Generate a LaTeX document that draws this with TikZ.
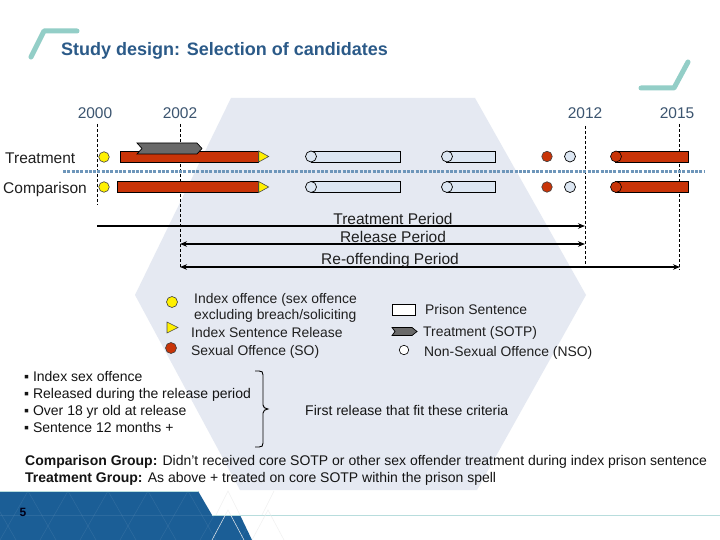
\documentclass[tikz,border=0pt]{standalone}
\usepackage{fontspec}
\setmainfont{Liberation Sans}
\usetikzlibrary{arrows.meta}
\definecolor{hexbg}{RGB}{229,233,242}
\definecolor{barred}{RGB}{200,52,8}
\definecolor{dotyellow}{RGB}{255,240,0}
\definecolor{boxblue}{RGB}{220,230,242}
\definecolor{arrgray}{RGB}{105,105,105}
\definecolor{titleblue}{RGB}{43,90,136}
\definecolor{yeartxt}{RGB}{60,85,112}
\definecolor{sepblue}{RGB}{110,150,186}
\definecolor{bandblue}{RGB}{27,94,150}
\definecolor{teal}{RGB}{147,206,199}
\definecolor{tealline}{RGB}{184,221,221}
\begin{document}
\begin{tikzpicture}[x=1pt,y=-1pt,
  big/.style={font=\fontsize{15.5}{18}\selectfont, inner sep=0, text height=11.1pt, text depth=0pt},
  yr/.style={big, text=yeartxt},
  lbl/.style={big, text=black!88},
  sm/.style={font=\fontsize{13.9}{16}\selectfont, inner sep=0, text height=10pt, text depth=0pt, anchor=west, text=black!88},
  ft/.style={font=\fontsize{14}{16}\selectfont, inner sep=0, text height=10pt, text depth=0pt, anchor=west, text=black!92},
  redbar/.style={rectangle, draw=black, fill=barred, line width=0.7pt, inner sep=0, minimum height=11pt, anchor=west},
  pbox/.style={rectangle, draw=black, fill=boxblue, line width=0.7pt, inner sep=0, minimum height=11pt, anchor=west},
  ydot/.style={circle, draw=black!75, fill=dotyellow, minimum size=10.5pt, inner sep=0, line width=0.6pt},
  rdot/.style={circle, draw=black!75, fill=barred, minimum size=10.5pt, inner sep=0, line width=0.6pt},
  odot/.style={circle, draw=black, fill=boxblue, minimum size=11pt, inner sep=0, line width=0.7pt},
  wdot/.style={circle, draw=black, fill=white, minimum size=9.5pt, inner sep=0, line width=0.6pt},
  ytri/.style={draw=black!70, fill=dotyellow, line width=0.6pt},
  sotp/.style={draw=black, fill=arrgray, line width=0.7pt},
  vdash/.style={draw=black, dash pattern=on 3pt off 2pt, line width=0.8pt},
  period/.style={line width=2.3pt},
  sepline/.style={draw=sepblue, line width=3pt, dash pattern=on 3pt off 1.3pt},
  deco/.style={draw=teal, line width=5pt, line cap=round, line join=round}]
\useasboundingbox (0,0) rectangle (720,540);
\fill[white] (0,0) rectangle (720,540);
% background hexagon
\fill[hexbg] (231,98) -- (475,98) -- (586,295) -- (477,490) -- (240,490) -- (135,295) -- cycle;
% decorations
\draw[deco] (31,57) -- (44,31) -- (77,31);
\draw[deco] (641,88) -- (674,88) -- (688,62);
% title
\node[font=\fontsize{18}{21}\selectfont\bfseries, text=titleblue, inner sep=0, anchor=west, text height=13pt, text depth=0pt] (title) at (61,49) {Study design: Selection of candidates};
% years
\node[yr] (y2000) at (95,113) {2000};
\node[yr] (y2002) at (180,113) {2002};
\node[yr] (y2012) at (585,113) {2012};
\node[yr] (y2015) at (677,113) {2015};
% dashed year lines
\coordinate (d0t) at (97,124); \coordinate (d0b) at (97,205);
\coordinate (d2t) at (180,124); \coordinate (d2b) at (180,268);
\coordinate (d12t) at (585,126); \coordinate (d12b) at (585,268);
\coordinate (d15t) at (679,124); \coordinate (d15b) at (679,270);
\draw[vdash] (d0t) -- (d0b);
\draw[vdash] (d2t) -- (d2b);
\draw[vdash] (d12t) -- (d12b);
\draw[vdash] (d15t) -- (d15b);
% row labels
\node[lbl, anchor=west] (trow) at (5,158) {Treatment};
\node[lbl, anchor=west] (crow) at (3,188) {Comparison};
% separator
\coordinate (sepL) at (63,172); \coordinate (sepR) at (705,172);
\draw[sepline] (sepL) -- (sepR);
% ---- treatment row (y=157)
\node[ydot] (tY) at (104,157) {};
\node[redbar, minimum width=138pt] (tbar) at (120,156.5) {};
\draw[ytri] (tbar.east) ++(0,-5.5) -- ++(10,5.5) -- ++(-10,5.5) -- cycle;
\draw[sotp] (137,143) -- (197,143) -- (202,148.5) -- (197,154) -- (137,154) -- (142,148.5) -- cycle;
\node[pbox, minimum width=89pt] (tp1) at (311,156.5) {};
\node[odot] (tn1) at (311,156.5) {};
\node[pbox, minimum width=49pt] (tp2) at (446,156.5) {};
\node[odot] (tn2) at (447,156.5) {};
\node[rdot] (tso) at (547,156.5) {};
\node[odot] (tnso) at (570,156.5) {};
\node[redbar, minimum width=73pt] (tbar2) at (615,156.5) {};
\node[rdot, draw=black, minimum size=11pt] (tso2) at (616,156.5) {};
% ---- comparison row (y=187)
\node[ydot] (cY) at (104,187) {};
\node[redbar, minimum width=141pt] (cbar) at (117,187) {};
\draw[ytri] (cbar.east) ++(0,-5.5) -- ++(10,5.5) -- ++(-10,5.5) -- cycle;
\node[pbox, minimum width=89pt] (cp1) at (311,187) {};
\node[odot] (cn1) at (311,187) {};
\node[pbox, minimum width=49pt] (cp2) at (446,187) {};
\node[odot] (cn2) at (447,187) {};
\node[rdot] (cso) at (547,187) {};
\node[odot] (cnso) at (570,187) {};
\node[redbar, minimum width=73pt] (cbar2) at (615,187) {};
\node[rdot, draw=black, minimum size=11pt] (cso2) at (616,187) {};
% ---- periods
\coordinate (tpL) at (97,226); \coordinate (tpR) at (585,226);
\coordinate (rpL) at (180,244); \coordinate (rpR) at (585,244);
\coordinate (opL) at (180,267); \coordinate (opR) at (680,267);
\draw[period, -{Stealth[length=7pt,width=5.5pt]}] (tpL) -- (tpR);
\draw[period, {Stealth[length=7pt,width=5.5pt]}-{Stealth[length=7pt,width=5.5pt]}] (rpL) -- (rpR);
\draw[period, {Stealth[length=7pt,width=5.5pt]}-{Stealth[length=7pt,width=5.5pt]}] (opL) -- (opR);
\node[lbl] (tptxt) at (393,219) {Treatment Period};
\node[lbl] (rptxt) at (393,237) {Release Period};
\node[lbl] (optxt) at (390,259) {Re-offending Period};
% ---- legend left
\node[ydot, minimum size=11pt] (lgY) at (172,302) {};
\node[sm] (lgYt1) at (194,298) {Index offence (sex offence};
\node[sm] (lgYt2) at (194,314) {excluding breach/soliciting};
\draw[ytri] (167,322) -- (178,327.5) -- (167,333) -- cycle;
\node[sm] (lgTt) at (191,332) {Index Sentence Release};
\node[rdot, minimum size=11pt] (lgR) at (171,348) {};
\node[sm] (lgRt) at (191,350) {Sexual Offence (SO)};
% ---- legend right
\draw[draw=black, fill=white, line width=0.7pt] (392,304) rectangle (415,315);
\node[sm] (lgPt) at (425,309) {Prison Sentence};
\draw[sotp] (392,327.5) -- (412,327.5) -- (417,331.5) -- (412,335.5) -- (392,335.5) -- (395,331.5) -- cycle;
\node[sm] (lgSt) at (423,331) {Treatment (SOTP)};
\node[wdot] (lgO) at (404,350) {};
\node[sm] (lgOt) at (424,351) {Non-Sexual Offence (NSO)};
% ---- criteria
\node[ft] (c1) at (24,376) {▪ Index sex offence};
\node[ft] (c2) at (24,393) {▪ Released during the release period};
\node[ft] (c3) at (24,410) {▪ Over 18 yr old at release};
\node[ft] (c4) at (24,427) {▪ Sentence 12 months +};
\draw[line width=0.9pt] (255,371) -- (259,371) .. controls (262,371) and (263,372) .. (263,375) -- (263,405) .. controls (263,407) and (265,409) .. (268,409) .. controls (265,409) and (263,411) .. (263,413) -- (263,443) .. controls (263,446) and (262,447) .. (259,447) -- (255,447);
\node[ft] (first) at (305,410) {First release that fit these criteria};
% ---- group definitions
\node[ft] (cg) at (25,460) {\textbf{Comparison Group:} Didn't received core SOTP or other sex offender treatment during index prison sentence};
\node[ft] (tg) at (25,477) {\textbf{Treatment Group:} As above + treated on core SOTP within the prison spell};
% ---- footer band
\begin{scope}
\clip (0,491) -- (198,491) -- (212,515) -- (240,515) -- (252,540) -- (0,540) -- cycle;
\fill[bandblue] (0,480) rectangle (300,540);
\foreach \k in {-2,...,8} {
  \draw[white, opacity=0.08, line width=0.6pt] (\k*40,540) -- (\k*40+28,491) -- (\k*40+56,540);
}
\draw[white, opacity=0.08, line width=0.6pt] (0,515) -- (260,515);
\end{scope}
\draw[tealline, line width=1pt] (0,491) -- (198,491);
\draw[tealline, line width=1pt] (212,515) -- (720,515);
\draw[black!6, line width=0.5pt] (212,540) -- (228,510) -- (244,540) (240,515) -- (228,491) -- (216,515);
\draw[black!6, line width=0.5pt] (252,540) -- (268,510) -- (284,540) (262,515) -- (274,491);
\node[font=\fontsize{12}{14}\selectfont\bfseries, text=black!90!blue, inner sep=0] (pg) at (23,512) {5};
\end{tikzpicture}
\end{document}
